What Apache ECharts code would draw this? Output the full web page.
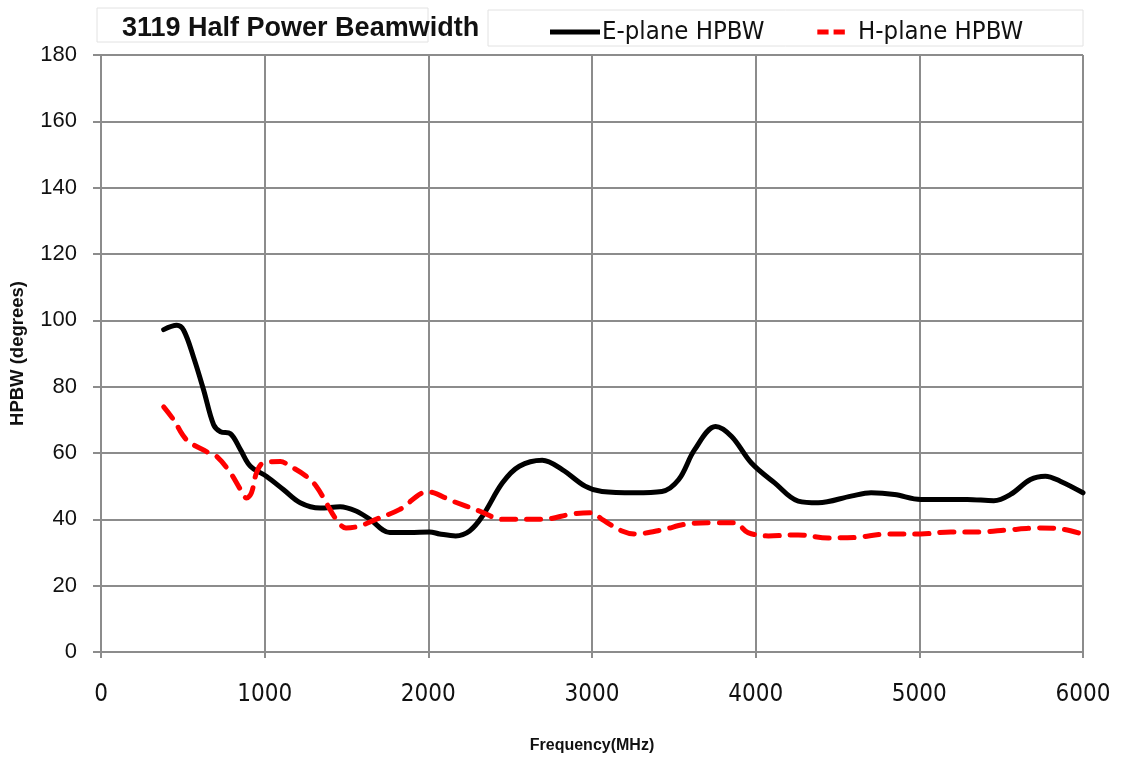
<!DOCTYPE html>
<html>
<head>
<meta charset="utf-8">
<script src="https://cdn.jsdelivr.net/npm/echarts@6/dist/echarts.min.js"></script>
<style>html,body{margin:0;padding:0;background:#fff;}#c{width:1123px;height:759px;}</style>
</head>
<body>
<div id="c"></div>
<script>
const titleText = '3119 Half Power Beamwidth';
const seriesNames = ['E-plane HPBW', 'H-plane HPBW'];
const xTicks = [0, 1000, 2000, 3000, 4000, 5000, 6000];
const yTicks = [0, 20, 40, 60, 80, 100, 120, 140, 160, 180];

const eFreq = [383, 463, 505, 566, 627, 688, 730, 791, 852, 913, 1010, 1114, 1217, 1339, 1461, 1558, 1643, 1765, 1887, 2008, 2069, 2167, 2252, 2331, 2453, 2556, 2696, 2818, 2958, 3061, 3262, 3427, 3530, 3627, 3755, 3853, 3974, 4116, 4260, 4382, 4583, 4705, 4848, 5009, 5293, 5455, 5557, 5679, 5770, 5861, 6000];
const eVal  = [97.2, 98.5, 97, 88.8, 79, 68.5, 66.4, 65.8, 61, 56, 53, 49, 45, 43.4, 43.8, 42.5, 40, 36, 36, 36.2, 35.6, 35, 36.5, 41, 51, 56, 57.8, 55, 50, 48.4, 48, 48.4, 52, 61, 68, 65, 57, 51, 45.5, 45, 47, 48, 47.5, 46, 46, 45.6, 47.5, 52, 53, 51.5, 48];

const hFreq = [383, 444, 523, 645, 706, 791, 852, 889, 919, 950, 992, 1096, 1157, 1254, 1315, 1376, 1437, 1497, 1582, 1680, 1826, 1995, 2148, 2313, 2453, 2696, 2879, 3001, 3061, 3183, 3262, 3427, 3567, 3713, 3871, 3953, 4078, 4260, 4443, 4601, 4808, 5009, 5192, 5374, 5538, 5740, 5880, 6000];
const hVal  = [73.9, 70, 64, 60.4, 59, 54, 49, 46.4, 48, 54, 57, 57.4, 56, 53, 50, 45, 40, 37.4, 38, 40, 43, 48.3, 45.5, 42.5, 40, 40, 41.6, 42, 40, 36.5, 35.6, 36.8, 38.5, 39, 39, 36, 35, 35.3, 34.4, 34.5, 35.6, 35.6, 36.2, 36.2, 36.8, 37.4, 37, 35.5];

const ePairs = eFreq.map((f, i) => [f, eVal[i]]);
const hPairs = hFreq.map((f, i) => [f, hVal[i]]);

const gridColor = '#8c8c8c';
const condensed = '"DejaVu Sans Condensed", "Liberation Sans Narrow", sans-serif';
const chart = echarts.init(document.getElementById('c'), null, {renderer: 'canvas'});
chart.setOption({
  backgroundColor: '#fff',
  animation: false,
  title: {
    text: titleText,
    left: 117, top: 10,
    textStyle: {fontFamily: 'Liberation Sans, Arial, sans-serif', fontSize: 27, fontWeight: 'bold', color: '#111'}
  },
  graphic: [
    {type: 'rect', shape: {x: 97, y: 8, width: 331, height: 34}, style: {fill: 'none', stroke: '#e2e2e2', lineWidth: 1}, z: -1},
    {type: 'rect', shape: {x: 488, y: 10, width: 595, height: 36}, style: {fill: 'none', stroke: '#e2e2e2', lineWidth: 1}, z: -1}
  ],
  legend: {
    left: 545, top: 14,
    itemWidth: 50, itemHeight: 5, itemGap: 53,
    data: [
      {name: seriesNames[0], icon: 'rect'},
      {name: seriesNames[1], icon: 'path://M0,0h18v8h-18z M26,0h18v8h-18z'}
    ],
    textStyle: {fontFamily: condensed, fontSize: 25.5, color: '#111', padding: [0, 0, 0, -3]}
  },
  grid: {left: 97, right: 40, top: 55, bottom: 102, containLabel: false},
  xAxis: {
    type: 'value', min: 0, max: 6000, interval: 1000,
    name: 'Frequency(MHz)', nameLocation: 'middle', nameGap: 86,
    nameTextStyle: {fontFamily: 'Liberation Sans, Arial, sans-serif', fontSize: 16, fontWeight: 'bold', color: '#111'},
    axisLine: {show: true, onZero: false, lineStyle: {color: gridColor, width: 2}},
    axisTick: {show: true, inside: false, length: 6, lineStyle: {color: gridColor, width: 2}},
    splitLine: {show: true, lineStyle: {color: gridColor, width: 2}},
    axisLabel: {margin: 31, fontFamily: condensed, fontSize: 24, color: '#111', formatter: v => String(v)}
  },
  yAxis: {
    type: 'value', min: 0, max: 180, interval: 20,
    name: 'HPBW (degrees)', nameLocation: 'middle', nameGap: 74, nameRotate: 90,
    nameTextStyle: {fontFamily: 'Liberation Sans, Arial, sans-serif', fontSize: 18.5, fontWeight: 'bold', color: '#111'},
    axisLine: {show: true, lineStyle: {color: gridColor, width: 2}},
    axisTick: {show: true, inside: false, length: 8, lineStyle: {color: gridColor, width: 2}},
    splitLine: {show: true, lineStyle: {color: gridColor, width: 2}},
    axisLabel: {margin: 24, fontFamily: 'Liberation Sans, Arial, sans-serif', fontSize: 22, color: '#111'}
  },
  series: [
    {
      name: seriesNames[0], type: 'line', data: ePairs, smooth: 0.35, symbol: 'none',
      lineStyle: {color: '#000', width: 5, cap: 'round', join: 'round'},
      itemStyle: {color: '#000'}, z: 3
    },
    {
      name: seriesNames[1], type: 'line', data: hPairs, smooth: 0.35, symbol: 'none',
      lineStyle: {color: '#ff0000', width: 5, type: [14, 11], cap: 'round', join: 'round'},
      itemStyle: {color: '#ff0000'}, z: 4
    }
  ]
});
</script>
</body>
</html>
